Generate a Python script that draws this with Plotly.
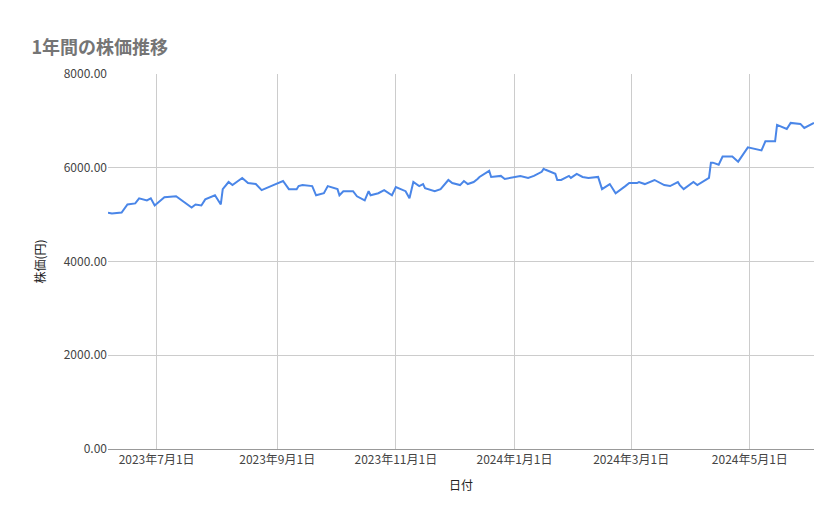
import plotly.graph_objects as go

dates = ["2023-06-06", "2023-06-08", "2023-06-13", "2023-06-16", "2023-06-20", "2023-06-22", "2023-06-26", "2023-06-28",
         "2023-06-30", "2023-07-05", "2023-07-11", "2023-07-17", "2023-07-19", "2023-07-21", "2023-07-24", "2023-07-26",
         "2023-07-31", "2023-08-03", "2023-08-04", "2023-08-07", "2023-08-09", "2023-08-14", "2023-08-17", "2023-08-21",
         "2023-08-24", "2023-08-30", "2023-09-04", "2023-09-07", "2023-09-11", "2023-09-12", "2023-09-14", "2023-09-19",
         "2023-09-21", "2023-09-25", "2023-09-27", "2023-10-02", "2023-10-03", "2023-10-05", "2023-10-10", "2023-10-12",
         "2023-10-16", "2023-10-18", "2023-10-19", "2023-10-23", "2023-10-26", "2023-10-30", "2023-11-01", "2023-11-06",
         "2023-11-08", "2023-11-10", "2023-11-13", "2023-11-15", "2023-11-16", "2023-11-21", "2023-11-24", "2023-11-28",
         "2023-11-30", "2023-12-04", "2023-12-06", "2023-12-08", "2023-12-11", "2023-12-13", "2023-12-14", "2023-12-19",
         "2023-12-20", "2023-12-25", "2023-12-27", "2024-01-04", "2024-01-08", "2024-01-11", "2024-01-15", "2024-01-16",
         "2024-01-17", "2024-01-22", "2024-01-23", "2024-01-25", "2024-01-29", "2024-01-30", "2024-02-02", "2024-02-05",
         "2024-02-08", "2024-02-13", "2024-02-15", "2024-02-19", "2024-02-22", "2024-02-27", "2024-02-29", "2024-03-04",
         "2024-03-05", "2024-03-08", "2024-03-13", "2024-03-18", "2024-03-21", "2024-03-25", "2024-03-26", "2024-03-28",
         "2024-04-02", "2024-04-04", "2024-04-10", "2024-04-11", "2024-04-12", "2024-04-15", "2024-04-17", "2024-04-22",
         "2024-04-25", "2024-04-30", "2024-05-07", "2024-05-09", "2024-05-14", "2024-05-15", "2024-05-20", "2024-05-22",
         "2024-05-27", "2024-05-29", "2024-06-03"]

prices = [5043, 5022, 5043, 5217, 5239, 5348, 5304, 5348,
          5196, 5370, 5391, 5217, 5152, 5217, 5196, 5326,
          5413, 5217, 5543, 5696, 5630, 5783, 5674, 5652,
          5522, 5630, 5717, 5543, 5543, 5609, 5630, 5609,
          5413, 5457, 5609, 5543, 5413, 5500, 5500, 5391,
          5304, 5500, 5413, 5457, 5522, 5413, 5587, 5500,
          5348, 5696, 5609, 5652, 5565, 5500, 5543, 5739,
          5674, 5630, 5717, 5652, 5696, 5761, 5804, 5935,
          5804, 5826, 5761, 5826, 5783, 5826, 5913, 5978,
          5957, 5870, 5739, 5739, 5826, 5783, 5870, 5804,
          5783, 5804, 5543, 5652, 5457, 5609, 5674, 5674,
          5696, 5652, 5739, 5630, 5609, 5696, 5630, 5543,
          5696, 5630, 5783, 6109, 6109, 6065, 6239, 6239,
          6130, 6435, 6370, 6565, 6565, 6913, 6826, 6957,
          6935, 6848, 6957, 6826, 6957]

n = min(len(dates), len(prices))

fig = go.Figure(go.Scatter(x=dates[:n], y=prices[:n], mode="lines",
                           line=dict(color="#4a86e8", width=2), name="株価"))

font = "Noto Sans CJK JP"
fig.update_layout(
    width=839, height=519,
    margin=dict(l=100, r=33, t=66, b=78),
    paper_bgcolor="white", plot_bgcolor="white",
    font=dict(family=font, size=12, color="#222"),
    title=dict(text="<b>1年間の株価推移</b>", x=0.028, xanchor="left", y=0.935,
               font=dict(size=18, color="#757575", family=font)),
    showlegend=False,
)
fig.update_xaxes(
    range=["2023-06-06", "2024-06-03"],
    tickvals=["2023-07-01", "2023-09-01", "2023-11-01", "2024-01-01", "2024-03-01", "2024-05-01"],
    ticktext=["2023年7月1日", "2023年9月1日", "2023年11月1日", "2024年1月1日", "2024年3月1日", "2024年5月1日"],
    showgrid=True, gridcolor="#cccccc", showline=True, linecolor="#999",
    title=dict(text="日付", font=dict(size=12)), tickfont=dict(size=12, color="#444"),
)
fig.update_yaxes(
    range=[0, 8000], tickvals=[0, 2000, 4000, 6000, 8000], tickformat=".2f",
    showgrid=True, gridcolor="#cccccc", zeroline=False,
    title=dict(text="株価(円)", font=dict(size=12)), tickfont=dict(size=12, color="#444"),
)

fig.write_html("out.html")
